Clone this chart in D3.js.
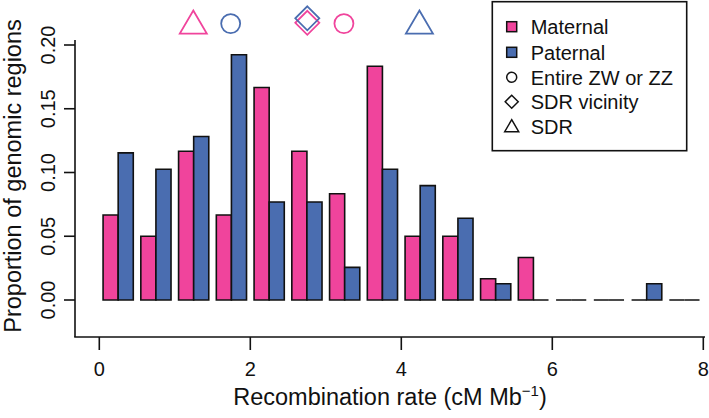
<!DOCTYPE html>
<html>
<head>
<meta charset="utf-8">
<script src="https://cdn.jsdelivr.net/npm/d3@7"></script>
<style>
  html, body { margin: 0; padding: 0; background: #fff; }
  svg { display: block; font-family: "Liberation Sans", Arial, sans-serif; }
</style>
</head>
<body>
<svg id="chart" width="709" height="418"></svg>
<script>
// ---- data ----
const binStarts = [0, 0.5, 1, 1.5, 2, 2.5, 3, 3.5, 4, 4.5, 5, 5.5, 6, 6.5, 7, 7.5];
const maternal = [0.0667, 0.05, 0.1167, 0.0667, 0.1667, 0.1167, 0.0833, 0.1833, 0.05, 0.05, 0.0167, 0.0333, 0, 0, 0, 0];
const paternal = [0.1154, 0.1026, 0.1282, 0.1923, 0.0769, 0.0769, 0.0256, 0.1026, 0.0897, 0.0641, 0.0128, 0, 0, 0, 0.0128, 0];
const xTicks = [0, 2, 4, 6, 8];
const yTicks = [0, 0.05, 0.10, 0.15, 0.20];
const markerSeries = ["Maternal", "Paternal"];
const markerShapes = ["triangle", "circle", "diamond", "diamond", "circle", "triangle"];
const markerSex = ["Maternal", "Paternal", "Maternal", "Paternal", "Maternal", "Paternal"];
const markerX = [1.245, 1.74, 2.755, 2.755, 3.24, 4.24];
const legendLabels = ["Maternal", "Paternal", "Entire ZW or ZZ", "SDR vicinity", "SDR"];

// ---- styles ----
const colors = { Maternal: "#F0449C", Paternal: "#4A6DB0" };
const svg = d3.select("#chart");

const x = d3.scaleLinear().domain([0, 8]).range([99.3, 703.3]);
const y = d3.scaleLinear().domain([0, 0.2]).range([300, 45]);

// bars
function barPath(x0, x1, v) {
  const X0 = x(x0), X1 = x(x1), Y0 = y(0), Y1 = y(v);
  return `M${X0},${Y0}V${Y1}H${X1}V${Y0}Z`;
}
const bars = svg.append("g");
binStarts.forEach((b, i) => {
  bars.append("path")
    .attr("d", barPath(b + 0.05, b + 0.25, maternal[i]))
    .attr("fill", colors.Maternal).attr("stroke", "#111").attr("stroke-width", 1.6);
  bars.append("path")
    .attr("d", barPath(b + 0.25, b + 0.45, paternal[i]))
    .attr("fill", colors.Paternal).attr("stroke", "#111").attr("stroke-width", 1.6);
});

// axes (L-shaped frame)
const axisColor = "#111";
const plotLeft = 75, plotRight = 705, plotBottom = 337, plotTop = 40;
svg.append("line").attr("x1", plotLeft).attr("x2", plotLeft).attr("y1", plotTop).attr("y2", plotBottom)
  .attr("stroke", axisColor).attr("stroke-width", 1.6);
svg.append("line").attr("x1", plotLeft - 0.8).attr("x2", plotRight).attr("y1", plotBottom).attr("y2", plotBottom)
  .attr("stroke", axisColor).attr("stroke-width", 1.6);

// x ticks
const xa = svg.append("g");
xTicks.forEach(t => {
  xa.append("line").attr("x1", x(t)).attr("x2", x(t)).attr("y1", plotBottom).attr("y2", 350)
    .attr("stroke", axisColor).attr("stroke-width", 1.6);
  xa.append("text").attr("x", x(t)).attr("y", 376).attr("text-anchor", "middle")
    .attr("font-size", 20).attr("fill", "#111").text(d3.format("d")(t));
});
// y ticks
const ya = svg.append("g");
yTicks.forEach(t => {
  ya.append("line").attr("x1", 64).attr("x2", plotLeft).attr("y1", y(t)).attr("y2", y(t))
    .attr("stroke", axisColor).attr("stroke-width", 1.6);
  ya.append("text").attr("transform", `translate(55,${y(t)}) rotate(-90)`)
    .attr("text-anchor", "middle").attr("font-size", 20).attr("fill", "#111")
    .text(d3.format(".2f")(t));
});

// axis titles
svg.append("text").attr("x", 390).attr("y", 405).attr("text-anchor", "middle")
  .attr("font-size", 23.5).attr("fill", "#111")
  .call(t => {
    t.append("tspan").text("Recombination rate (cM Mb");
    t.append("tspan").attr("font-size", 15).attr("dy", -9).text("\u22121");
    t.append("tspan").attr("dy", 9).text(")");
  });
svg.append("text").attr("transform", "translate(20.5,176) rotate(-90)")
  .attr("text-anchor", "middle").attr("font-size", 23.5).attr("fill", "#111")
  .text("Proportion of genomic regions");

// top markers
function shapePath(shape, cx, cy) {
  if (shape === "triangle") {
    return `M${cx},${cy - 13}L${cx + 13.5},${cy + 10}L${cx - 13.5},${cy + 10}Z`;
  } else if (shape === "diamond") {
    return `M${cx},${cy - 12}L${cx + 12},${cy}L${cx},${cy + 12}L${cx - 12},${cy}Z`;
  }
  return null;
}
const markerY = 0.218;
const mk = svg.append("g");
markerX.forEach((mx, i) => {
  const cx = x(mx);
  let cy = y(markerY) + 1.5;
  const shape = markerShapes[i];
  const col = colors[markerSex[i]];
  if (shape === "diamond") cy = markerSex[i] === "Paternal" ? 18.3 : 22.8;
  if (shape === "circle") {
    mk.append("circle").attr("cx", cx).attr("cy", cy).attr("r", 9.5)
      .attr("fill", "none").attr("stroke", col).attr("stroke-width", 1.8);
  } else {
    mk.append("path").attr("d", shapePath(shape, cx, cy))
      .attr("fill", "none").attr("stroke", col).attr("stroke-width", 1.8);
  }
});

// legend
const lg = svg.append("g");
lg.append("rect").attr("x", 492.3).attr("y", 1.7).attr("width", 194.4).attr("height", 149)
  .attr("fill", "#fff").attr("stroke", "#111").attr("stroke-width", 1.6);
const ly = [26.7, 52.3, 77.3, 101.7, 126.7];
const lsx = 511.7;
legendLabels.forEach((lab, i) => {
  const cy = ly[i];
  if (i < 2) {
    lg.append("rect").attr("x", lsx - 5).attr("y", cy - 5).attr("width", 10).attr("height", 10)
      .attr("fill", colors[markerSeries[i]]).attr("stroke", "#111").attr("stroke-width", 1.5);
  } else if (i === 2) {
    lg.append("circle").attr("cx", lsx).attr("cy", cy).attr("r", 5)
      .attr("fill", "none").attr("stroke", "#111").attr("stroke-width", 1.5);
  } else if (i === 3) {
    lg.append("path").attr("d", `M${lsx},${cy - 6.5}L${lsx + 6.5},${cy}L${lsx},${cy + 6.5}L${lsx - 6.5},${cy}Z`)
      .attr("fill", "none").attr("stroke", "#111").attr("stroke-width", 1.5);
  } else {
    lg.append("path").attr("d", `M${lsx},${cy - 7}L${lsx + 7},${cy + 5}L${lsx - 7},${cy + 5}Z`)
      .attr("fill", "none").attr("stroke", "#111").attr("stroke-width", 1.5);
  }
  lg.append("text").attr("x", 530.7).attr("y", cy + 7.2).attr("font-size", 20).attr("fill", "#111").text(lab);
});
</script>
</body>
</html>
